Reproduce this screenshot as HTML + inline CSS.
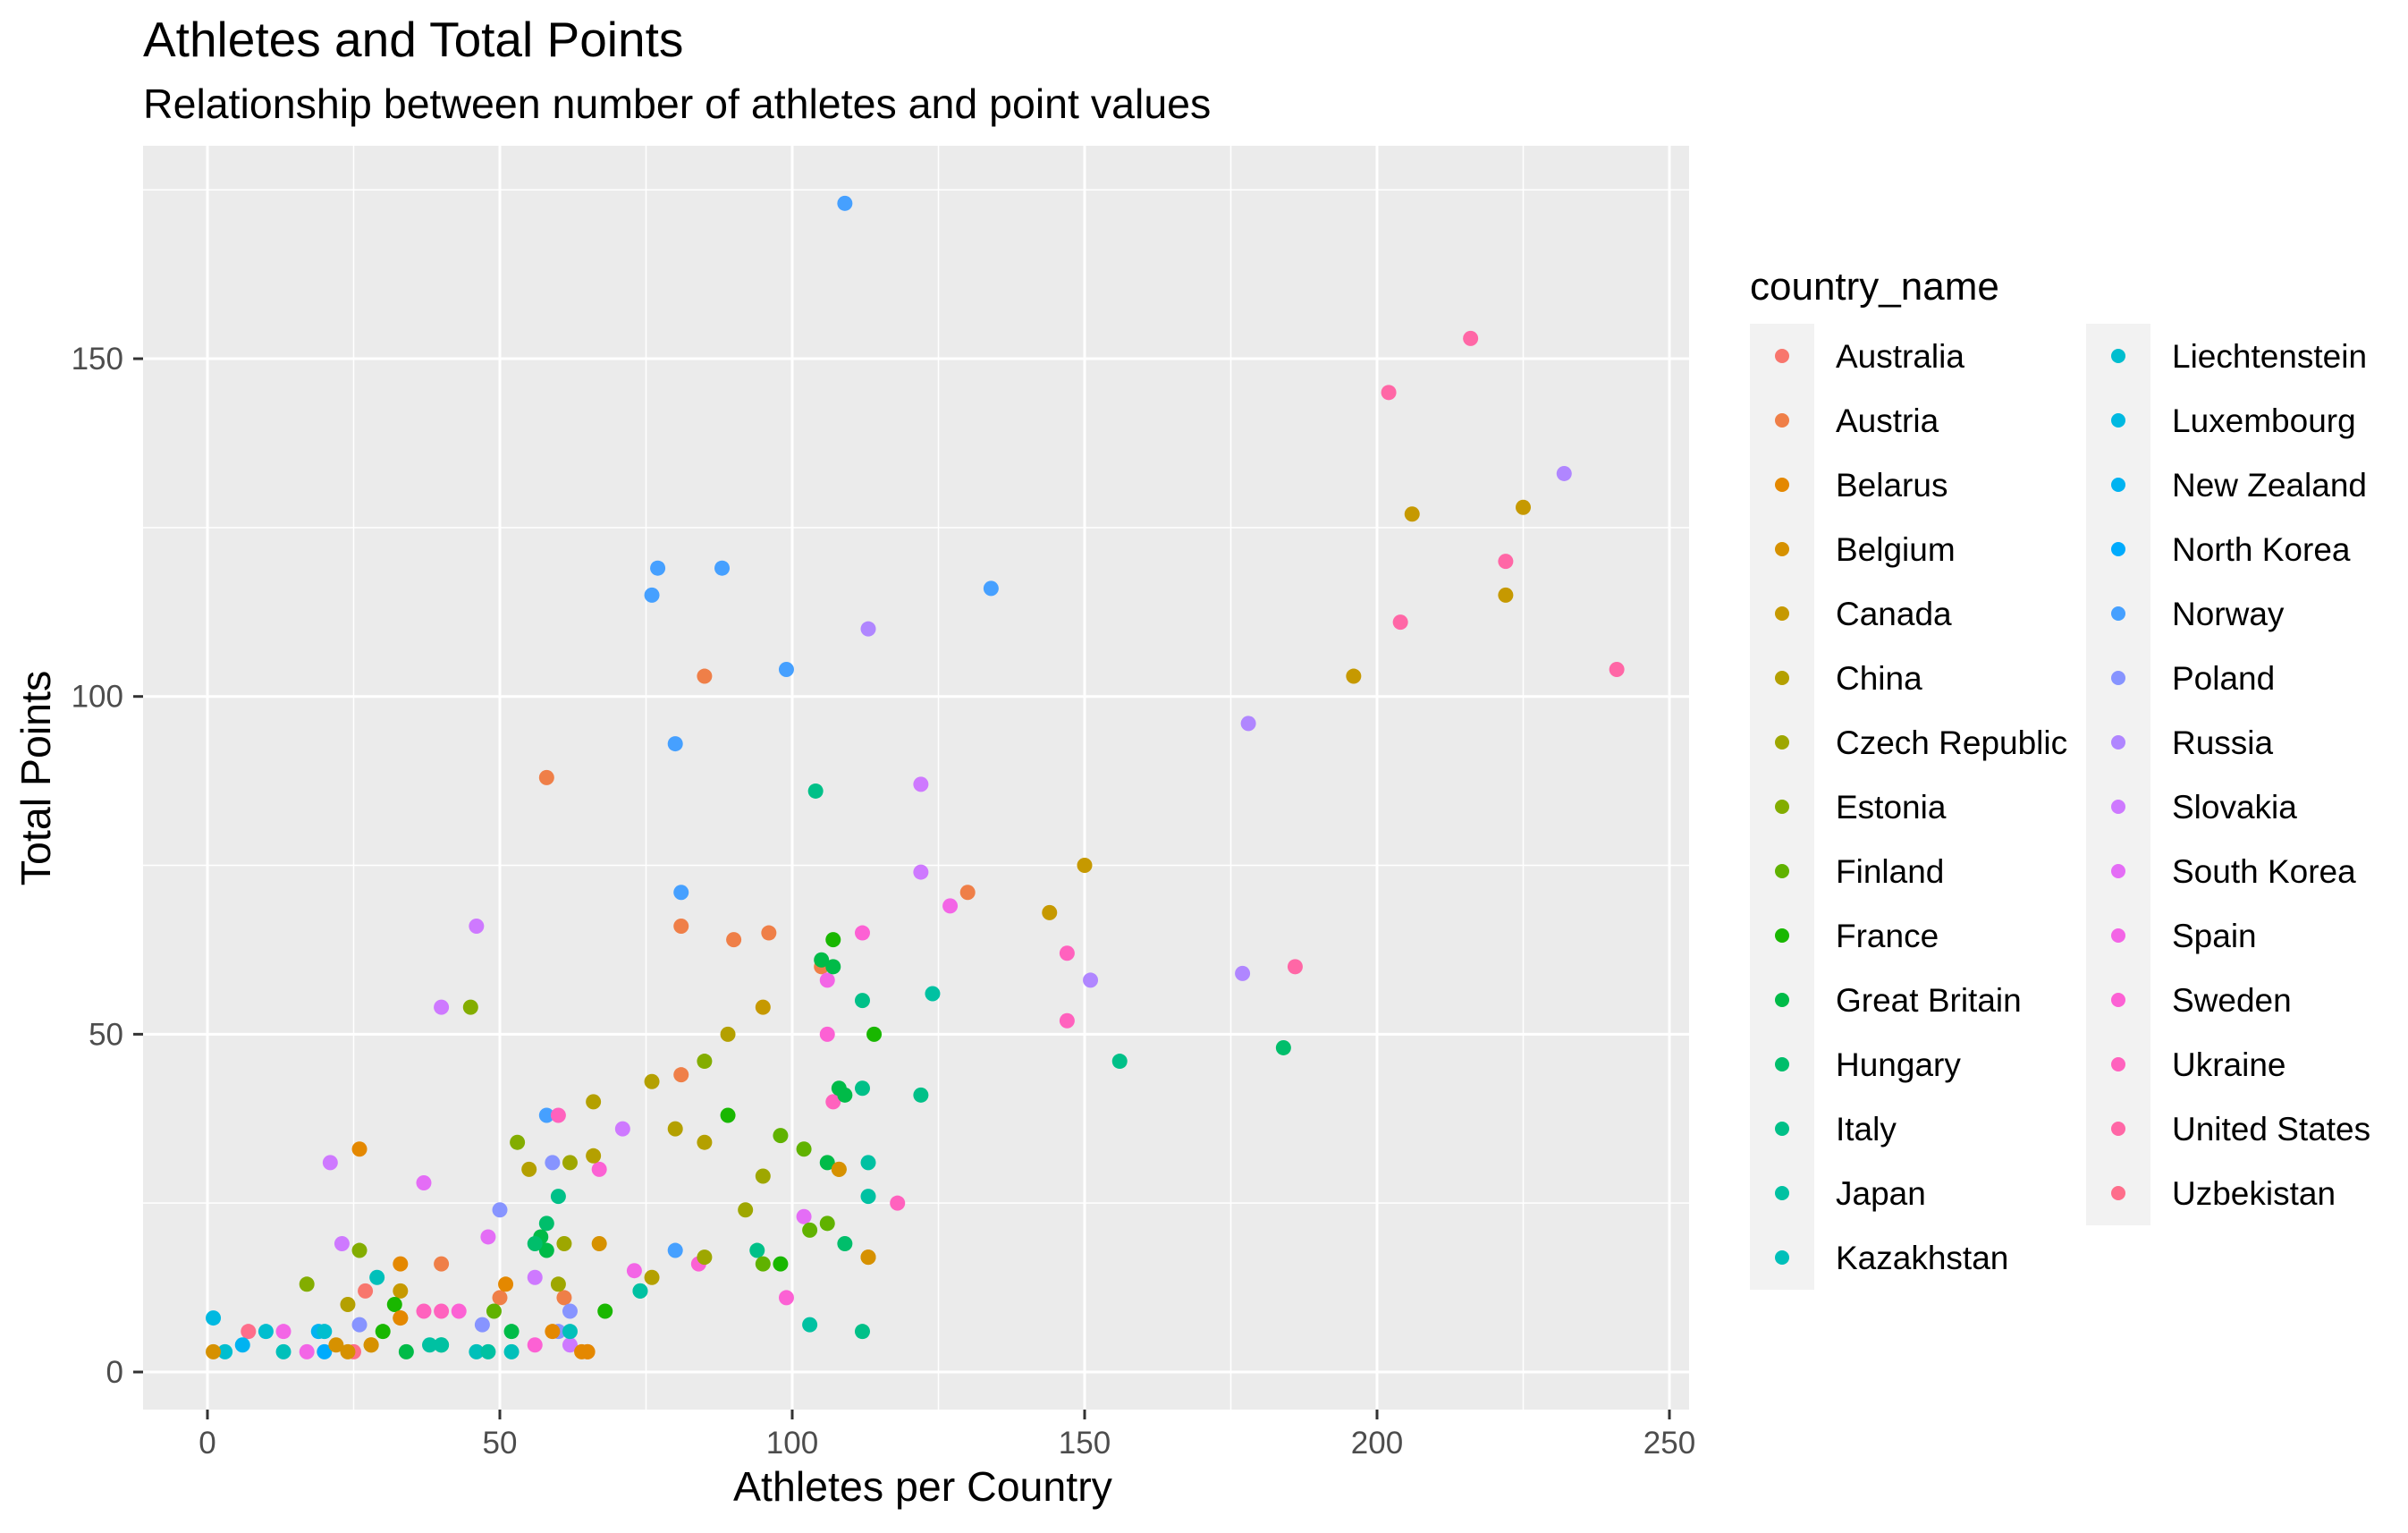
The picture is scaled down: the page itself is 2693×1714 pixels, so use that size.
<!DOCTYPE html>
<html><head><meta charset="utf-8"><style>
html,body{margin:0;padding:0;background:#fff;}
svg text{font-family:"Liberation Sans",Arial,sans-serif;}
</style></head><body>
<svg id="chart" width="2693" height="1709" viewBox="0 0 2693 1709" xmlns="http://www.w3.org/2000/svg">
<rect width="2693" height="1709" fill="#fff"/>
<text x="160" y="63" font-size="55" fill="#000">Athletes and Total Points</text>
<text x="160" y="132" font-size="46.5" fill="#000">Relationship between number of athletes and point values</text>
<rect x="160" y="163" width="1729" height="1413" fill="#EBEBEB"/>
<g id="grid"></g>
<g id="axes"></g>
<g id="points"></g>
<text x="1032" y="1690" font-size="46.5" text-anchor="middle" fill="#000" transform="translate(0,-12)">Athletes per Country</text>
<text transform="translate(56,870) rotate(-90)" font-size="46.5" text-anchor="middle" fill="#000">Total Points</text>
<text x="1957" y="335" font-size="44" fill="#000">country_name</text>
<g id="legend"></g>
</svg>
<script>
const countries = ["Australia","Austria","Belarus","Belgium","Canada","China","Czech Republic","Estonia","Finland","France","Great Britain","Hungary","Italy","Japan","Kazakhstan","Liechtenstein","Luxembourg","New Zealand","North Korea","Norway","Poland","Russia","Slovakia","South Korea","Spain","Sweden","Ukraine","United States","Uzbekistan"];
const xTicks = [0,50,100,150,200,250];
const yTicks = [0,50,100,150];
const athletes = [109,77,88,76,134,99,80,81,58,80, 85,58,81,90,96,130,81,61,40,50,27,105,65, 216,202,222,204,241,186, 147,147,118,107,60,37, 7,25, 225,206,222,196,150,144,95,108,113,67,24,33, 232,178,113,177,151, 122,122,46,40,21,71,56,62,23, 127,112,106,106,99,102,84,37,73,67,48,13,17,40,43,56, 104,124,112,156,184,112,122,113,113,109,94,103,112,74,60,58, 107,105,107,114,108,109,89,106,68,98,57,58,56,52,32,40,30,34, 45,85,89,53,98,102,106,103,95,61,49,26, 76,80,85,66,55,60,76,95,92,85,66,62,28,17,24,33, 59,50,62,47,26,60, 1,3,6,10,13,19,20,20,29,38,40,46,48,52,62,74, 26,33,33,1,22,28,51,59,64,65,108,113];
const points = [173,119,119,115,116,104,93,71,38,18, 103,88,66,64,65,71,44,11,16,11,12,60,3, 153,145,120,111,104,60, 62,52,25,40,38,9, 6,3, 128,127,115,103,75,68,54,30,17,19,3,12, 133,96,110,59,58, 87,74,66,54,31,36,14,4,19, 69,65,58,50,11,23,16,28,15,30,20,6,3,9,9,4, 86,56,55,46,48,42,41,31,26,19,18,7,6,12,26,22, 64,61,60,50,42,41,38,31,9,16,20,18,19,6,10,4,6,3, 54,46,50,34,35,33,22,21,16,19,9,18, 43,36,34,40,30,13,14,29,24,17,32,31,4,13,10,8, 31,24,9,7,7,6, 8,3,4,6,3,6,6,3,14,4,4,3,3,3,6,12, 33,16,8,3,4,4,13,6,3,3,30,17];
const group = [19,19,19,19,19,19,19,19,19,19, 1,1,1,1,1,1,1,1,1,1,0,1,1, 27,27,27,27,27,27, 26,26,26,26,26,26, 28,28, 4,4,4,4,4,4,4,3,3,3,3,4, 21,21,21,21,21, 22,22,22,22,22,22,22,22,22, 24,25,24,25,25,23,25,23,24,25,23,24,24,26,25,25, 12,13,12,12,11,12,12,13,13,11,12,13,12,13,12,11, 9,10,10,9,10,10,9,10,9,9,10,10,11,10,9,10,9,10, 7,7,5,7,8,8,8,8,8,6,8,7, 5,5,5,5,5,6,5,6,6,6,5,6,4,7,5,4, 20,20,20,20,20,20, 16,15,17,15,14,17,15,18,14,13,13,14,13,14,14,13, 2,2,2,3,3,3,2,2,2,2,3,3];

function hcl2hex(h,c,l){
  const hr=h*Math.PI/180, L=l, U=c*Math.cos(hr), V=c*Math.sin(hr);
  const Xn=95.047,Yn=100,Zn=108.883;
  const un=4*Xn/(Xn+15*Yn+3*Zn), vn=9*Yn/(Xn+15*Yn+3*Zn);
  const Y = L>8 ? Yn*Math.pow((L+16)/116,3) : Yn*L/903.3;
  const u=U/(13*L)+un, v=V/(13*L)+vn;
  const X=9*Y*u/(4*v), Z=-X/3-5*Y+3*Y/v;
  const x=X/100,y=Y/100,z=Z/100;
  let r=3.2404542*x-1.5371385*y-0.4985314*z, g=-0.969266*x+1.8760108*y+0.041556*z, b=0.0556434*x-0.2040259*y+1.0572252*z;
  const f=t=>{t=t<=0.0031308?12.92*t:1.055*Math.pow(t,1/2.4)-0.055;return Math.max(0,Math.min(255,Math.round(t*255)));};
  return "#"+[r,g,b].map(t=>f(t).toString(16).padStart(2,"0")).join("");
}
const n=countries.length;
const colors=countries.map((_,i)=>hcl2hex(15+360*i/n,100,65));
const NS="http://www.w3.org/2000/svg";
const X0=232, XS=6.54, Y0=1534, YS=7.553;
const sx=v=>X0+v*XS, sy=v=>Y0-v*YS;
const PL=160,PR=1889,PT=163,PB=1576;
function mk(tag,attrs,parent){const e=document.createElementNS(NS,tag);for(const k in attrs)e.setAttribute(k,attrs[k]);parent.appendChild(e);return e;}
const grid=document.getElementById("grid"), axes=document.getElementById("axes");
for(let v=-25;v<=275;v+=50){const x=sx(v);if(x<PL||x>PR)continue;
  const l=mk("line",{x1:x,x2:x,y1:PT,y2:PB,stroke:"#fff","stroke-width":1.5},grid);
  
  }
for(let v=25;v<=175;v+=50){const y=sy(v);if(y<PT||y>PB)continue;
  const l=mk("line",{x1:PL,x2:PR,y1:y,y2:y,stroke:"#fff","stroke-width":1.5},grid);
  
  }
xTicks.forEach(v=>{const x=sx(v);
  const l=mk("line",{x1:x,x2:x,y1:PT,y2:PB,stroke:"#fff","stroke-width":3},grid);
  
  
  const t=mk("line",{x1:x,x2:x,y1:PB,y2:PB+11,stroke:"#333","stroke-width":3},axes);
  
  
  const tx=mk("text",{x:x,y:1625,"font-size":35,"text-anchor":"middle",fill:"#4D4D4D"},axes);
  tx.textContent=v;
  
  });
yTicks.forEach(v=>{const y=sy(v);
  const l=mk("line",{x1:PL,x2:PR,y1:y,y2:y,stroke:"#fff","stroke-width":3},grid);
  
  
  const t=mk("line",{x1:PL-11,x2:PL,y1:y,y2:y,stroke:"#333","stroke-width":3},axes);
  
  
  const tx=mk("text",{x:138,y:y+12,"font-size":35,"text-anchor":"end",fill:"#4D4D4D"},axes);
  tx.textContent=v;
  
  });
const pg=document.getElementById("points");
athletes.forEach((a,i)=>{
  const c=mk("circle",{cx:sx(a),cy:sy(points[i]),r:8.5,fill:colors[group[i]]},pg);
  
  });
const lg=document.getElementById("legend");
countries.forEach((name,i)=>{
  const col=i<15?0:1, row=i<15?i:i-15;
  const bx=col?2333:1957, by=362+row*72;
  const g=mk("g",{},lg);
  
  
  mk("rect",{x:bx,y:by,width:72,height:72,fill:"#F2F2F2"},g);
  mk("circle",{cx:bx+36,cy:by+36,r:8,fill:colors[i]},g);
  const t=mk("text",{x:bx+96,y:by+49,"font-size":37,fill:"#000"},g);
  t.textContent=name;
  
  });
</script>
</body></html>
